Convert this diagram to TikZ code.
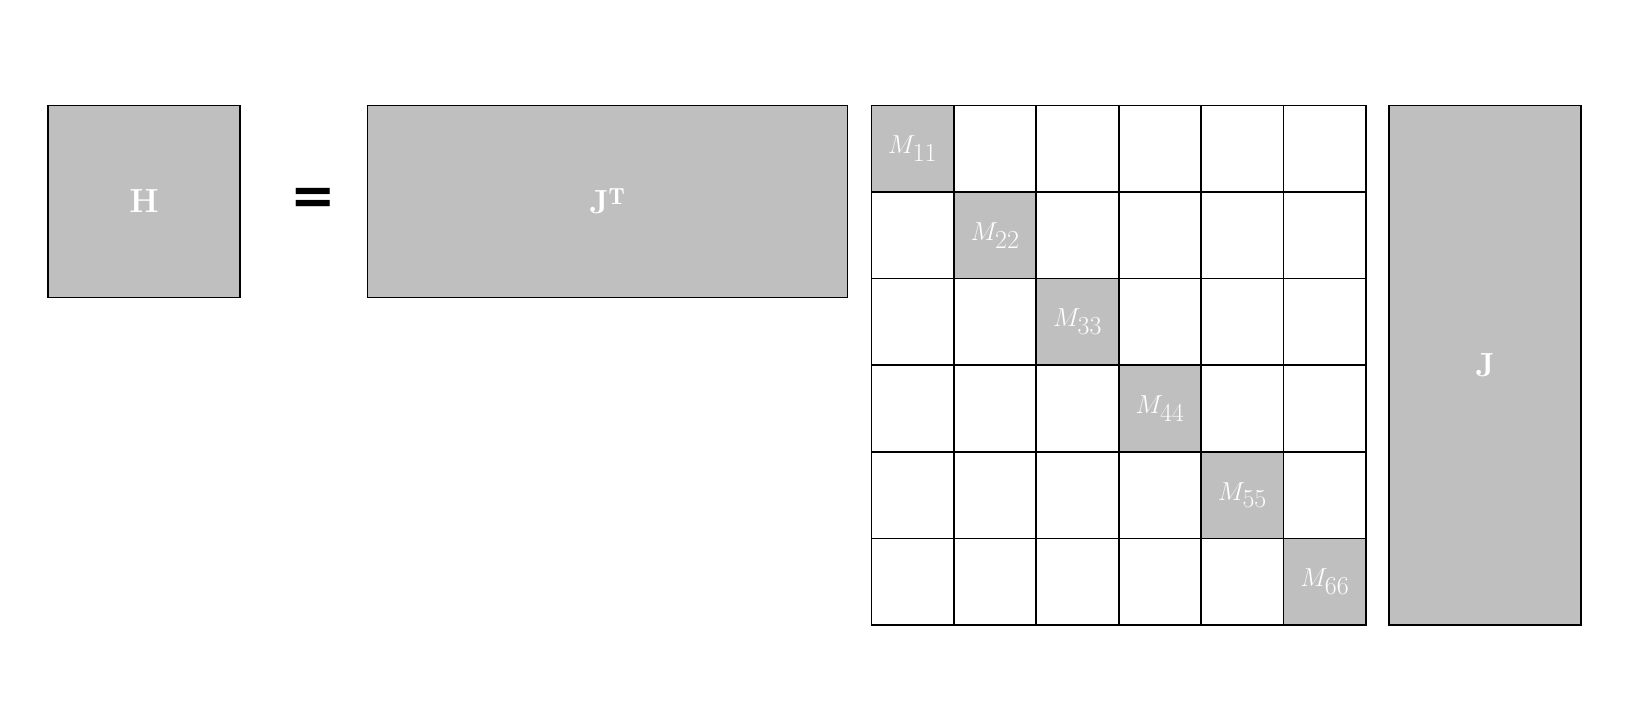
\documentclass[tikz,border=0pt]{standalone}
\usepackage{amsmath}
\usepackage{fontspec}
\usepackage{tikz}
\newfontfamily\eqfont{DejaVu Sans}

\begin{document}
\begin{tikzpicture}[x=1pt, y=-1pt]
    \tikzstyle{gray block}=[
        draw = black,
        line width = 1.6pt,
        fill = gray!50,
        text = white,
        font = \fontsize{32}{36}\selectfont\bfseries
    ]
    \tikzstyle{cell}=[
        draw = black,
        line width = 1.6pt,
        fill = white
    ]

    \useasboundingbox (0,0) rectangle (1560,686);

    \draw[gray block] (46,101) rectangle (230,285) node[midway] (H) {H};
    \node[font=\fontsize{52}{56}\selectfont\eqfont\bfseries] (eq) at (300,193) {=};
    \draw[gray block] (352,101) rectangle (812,285) node[midway] (JT) {J$^{\mathbf{T}}$};
    \draw[gray block] (1331,101) rectangle (1515,599) node[midway] (J) {J};

    % block diagonal M
    \foreach \i in {0,...,5}
        \foreach \j in {0,...,5}
            \draw[cell] ({835+79*\i},{101+83*\j}) rectangle ++(79,83);
    \foreach \k [evaluate=\k as \n using int(\k+1)] in {0,...,5}
        \draw[cell, fill=gray!50] ({835+79*\k},{101+83*\k}) rectangle ++(79,83)
            node[midway, text=white, font=\fontsize{38}{42}\selectfont] (m\n) {$M_{\n\n}$};

\end{tikzpicture}
\end{document}
